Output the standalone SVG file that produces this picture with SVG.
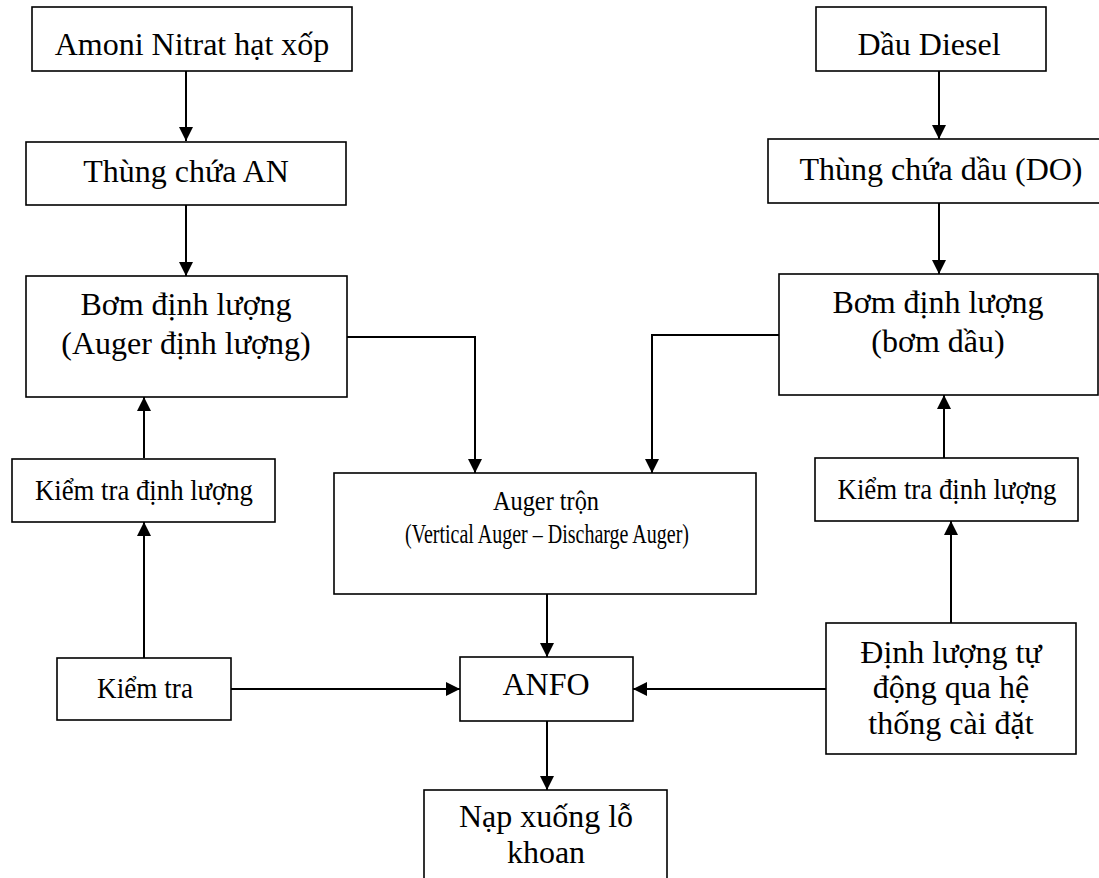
<svg xmlns="http://www.w3.org/2000/svg" width="1099" height="878" viewBox="0 0 1099 878">
<style>
.box{fill:#fff;stroke:#000;stroke-width:1.6}
.t{font-family:"Liberation Serif","Times New Roman",serif;font-size:32px;fill:#000;text-anchor:middle}
.s{font-size:30px}
.a{font-size:27px}
.c{fill:none;stroke:#000;stroke-width:2}
</style>
<defs>
<marker id="ah" viewBox="0 0 14 14" refX="14" refY="7" markerWidth="14" markerHeight="14" markerUnits="userSpaceOnUse" orient="auto">
<path d="M0,0 L14,7 L0,14 Z" fill="#000"/>
</marker>
</defs>
<rect width="1099" height="878" fill="#fff"/>
<g id="connectors">
<path class="c" d="M186,71 V141" marker-end="url(#ah)"/>
<path class="c" d="M186,205 V276" marker-end="url(#ah)"/>
<path class="c" d="M939,71 V139" marker-end="url(#ah)"/>
<path class="c" d="M939,203 V274" marker-end="url(#ah)"/>
<path class="c" d="M347,337 H475 V473" marker-end="url(#ah)"/>
<path class="c" d="M779,335 H652 V473" marker-end="url(#ah)"/>
<path class="c" d="M144,458 V397" marker-end="url(#ah)"/>
<path class="c" d="M944,458 V395" marker-end="url(#ah)"/>
<path class="c" d="M144,658 V522" marker-end="url(#ah)"/>
<path class="c" d="M951,623 V521" marker-end="url(#ah)"/>
<path class="c" d="M547,594 V657" marker-end="url(#ah)"/>
<path class="c" d="M231,689 H460" marker-end="url(#ah)"/>
<path class="c" d="M826,689 H633" marker-end="url(#ah)"/>
<path class="c" d="M547,721 V790" marker-end="url(#ah)"/>
</g>
<g id="n1"><rect class="box" x="32" y="7" width="320" height="64"/><text class="t" x="192" y="55">Amoni Nitrat hạt xốp</text></g>
<g id="n2"><rect class="box" x="26" y="142" width="320" height="63"/><text class="t" x="186" y="182">Thùng chứa AN</text></g>
<g id="n3"><rect class="box" x="26" y="276" width="321" height="121"/><text class="t" x="186" y="315">Bơm định lượng</text><text class="t" x="186" y="354">(Auger định lượng)</text></g>
<g id="n4"><rect class="box" x="12" y="459" width="263" height="63"/><text class="t s" x="144" y="500" textLength="218" lengthAdjust="spacingAndGlyphs">Kiểm tra định lượng</text></g>
<g id="n5"><rect class="box" x="57" y="658" width="174" height="62"/><text class="t s" x="145" y="698" textLength="96" lengthAdjust="spacingAndGlyphs">Kiểm tra</text></g>
<g id="n6"><rect class="box" x="816" y="7" width="230" height="64"/><text class="t" x="929" y="55">Dầu Diesel</text></g>
<g id="n7"><rect class="box" x="768" y="139" width="345" height="64"/><text class="t" x="941" y="180">Thùng chứa dầu (DO)</text></g>
<g id="n8"><rect class="box" x="779" y="274" width="319" height="121"/><text class="t" x="938" y="313">Bơm định lượng</text><text class="t" x="938" y="352">(bơm dầu)</text></g>
<g id="n9"><rect class="box" x="815" y="458" width="263" height="63"/><text class="t s" x="947" y="499" textLength="219" lengthAdjust="spacingAndGlyphs">Kiểm tra định lượng</text></g>
<g id="n10"><rect class="box" x="826" y="623" width="250" height="131"/><text class="t" x="951" y="663">Định lượng tự</text><text class="t" x="951" y="698">động qua hệ</text><text class="t" x="951" y="734">thống cài đặt</text></g>
<g id="n11"><rect class="box" x="334" y="473" width="422" height="121"/><text class="t a" x="546" y="510" textLength="106" lengthAdjust="spacingAndGlyphs">Auger trộn</text><text class="t a" x="547" y="543" textLength="284" lengthAdjust="spacingAndGlyphs">(Vertical Auger – Discharge Auger)</text></g>
<g id="n12"><rect class="box" x="460" y="657" width="173" height="64"/><text class="t" x="546" y="695">ANFO</text></g>
<g id="n13"><rect class="box" x="424" y="790" width="243" height="100"/><text class="t" x="546" y="827">Nạp xuống lỗ</text><text class="t" x="546" y="863">khoan</text></g>
</svg>
